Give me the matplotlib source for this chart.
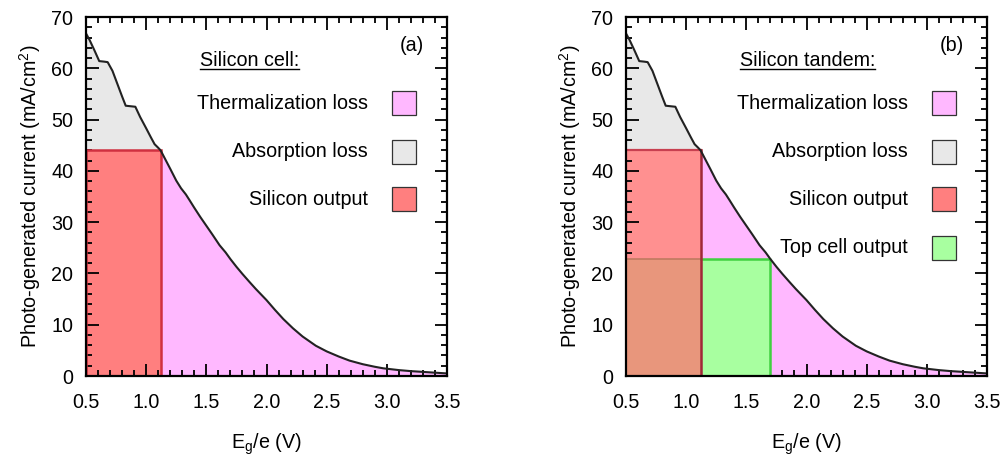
import numpy as np
import matplotlib
matplotlib.use('Agg')
import matplotlib.pyplot as plt
from matplotlib.patches import Rectangle
from matplotlib.lines import Line2D
from matplotlib.ticker import MultipleLocator

plt.rcParams['font.family'] = ['Liberation Sans', 'DejaVu Sans']
plt.rcParams['mathtext.fontset'] = 'custom'
plt.rcParams['mathtext.rm'] = 'Liberation Sans'

# photo-generated current vs band gap (AM1.5G)
eg = [0.50, 0.53, 0.57, 0.61, 0.65, 0.68, 0.72, 0.76, 0.80, 0.83, 0.87, 0.91,
      0.95, 1.00, 1.04, 1.07, 1.10, 1.12, 1.16, 1.20, 1.25, 1.29, 1.33, 1.36,
      1.40, 1.45, 1.50, 1.55, 1.61, 1.66, 1.70, 1.75, 1.80, 1.86, 1.91, 2.00,
      2.07, 2.14, 2.22, 2.30, 2.41, 2.50, 2.60, 2.69, 2.80, 2.90, 2.97, 3.10,
      3.20, 3.30, 3.38, 3.50]
jph = [66.8, 65.5, 63.5, 61.4, 61.3, 61.2, 59.5, 57.0, 54.5, 52.7, 52.6, 52.5,
       50.5, 48.3, 46.5, 45.2, 44.5, 44.0, 42.2, 40.4, 38.1, 36.6, 35.4, 34.3,
       32.8, 31.0, 29.3, 27.6, 25.5, 24.1, 22.8, 21.3, 19.9, 18.3, 17.0, 14.8,
       12.9, 11.1, 9.3, 7.7, 5.9, 4.8, 3.8, 3.0, 2.3, 1.8, 1.5, 1.15,
       0.95, 0.8, 0.68, 0.5]

eg_si = 1.12
j_si = 44.0
eg_top = 1.70
j_top = 22.8

labels_a = ['Thermalization loss', 'Absorption loss', 'Silicon output']
labels_b = ['Thermalization loss', 'Absorption loss', 'Silicon output', 'Top cell output']

c_therm = '#ffb8ff'
c_abs = '#e8e8e8'
c_si = '#ff7f7f'
c_si_b = '#ff9090'
c_top = '#a8ffa0'
c_mix = '#e8967c'

FS = 14.2

eg = np.array(eg)
jph = np.array(jph)

fig = plt.figure(figsize=(10.02, 4.55), dpi=100)
ax1 = fig.add_axes([86/1002, 79/455, 361/1002, 359/455])
ax2 = fig.add_axes([626/1002, 79/455, 361/1002, 359/455])


def base(ax, si_color):
    lo = eg <= eg_si
    hi = eg >= eg_si
    ax.fill_between(eg[lo], j_si, jph[lo], color=c_abs, lw=0)
    ax.fill_between(eg[hi], 0, jph[hi], color=c_therm, lw=0)
    ax.add_patch(Rectangle((0.5, 0), eg_si - 0.5, j_si, fc=si_color, ec='none'))
    ax.plot(eg, jph, color='#222222', lw=1.5, zorder=5)


def style(ax):
    ax.set_xlim(0.5, 3.5)
    ax.set_ylim(0, 70)
    ax.xaxis.set_major_locator(MultipleLocator(0.5))
    ax.xaxis.set_minor_locator(MultipleLocator(0.1))
    ax.yaxis.set_major_locator(MultipleLocator(10))
    ax.yaxis.set_minor_locator(MultipleLocator(2))
    ax.xaxis.set_major_formatter(matplotlib.ticker.FormatStrFormatter('%.1f'))
    ax.tick_params(which='both', direction='in', top=True, right=True,
                   labelsize=FS, width=1.3)
    ax.tick_params(which='major', length=9)
    ax.tick_params(which='minor', length=4.5)
    ax.tick_params(axis='x', pad=12)
    ax.tick_params(axis='y', pad=9)
    for s in ax.spines.values():
        s.set_linewidth(1.6)
        s.set_zorder(10)
    ax.set_xlabel(r'E$_\mathregular{g}$/e (V)', fontsize=FS, labelpad=14)
    ax.set_ylabel(r'Photo-generated current (mA/cm$^\mathregular{2}$)', fontsize=FS, labelpad=6)


def legend(ax, title, tag, labels, colors):
    t = ax.text(1.448, 61.6, title, fontsize=FS, va='center', ha='left')
    ax.text(3.21, 64.5, tag, fontsize=FS, va='center', ha='center')
    ys = [53.2, 43.7, 34.5, 25.0]
    for lab, col, y in zip(labels, colors, ys):
        ax.text(2.84, y, lab, fontsize=FS, va='center', ha='right')
        ax.add_patch(Rectangle((3.04, y - 2.35), 0.2, 4.7, fc=col, ec='#333333',
                               lw=0.9, zorder=6))
    return t


# (a) single junction silicon
base(ax1, c_si)
ax1.add_patch(Rectangle((0.5, 0), eg_si - 0.5, j_si, fc='none', ec='#d03040',
                        lw=1.8, zorder=4))
style(ax1)
t1 = legend(ax1, 'Silicon cell:', '(a)', labels_a, [c_therm, c_abs, c_si])

# (b) silicon tandem with a top cell
base(ax2, c_si_b)
ax2.add_patch(Rectangle((0.5, 0), eg_si - 0.5, j_top, fc=c_mix, ec='none', zorder=3))
ax2.add_patch(Rectangle((eg_si, 0), eg_top - eg_si, j_top, fc=c_top, ec='none', zorder=3))
ax2.plot([0.5, eg_si], [j_si, j_si], color='#c84050', lw=1.6, zorder=4)
ax2.plot([0.5, eg_si], [j_top, j_top], color='#c07a60', lw=1.2, zorder=4)
ax2.plot([eg_si, eg_top, eg_top], [j_top, j_top, 0], color='#40d040', lw=1.8, zorder=4)
ax2.plot([eg_si, eg_si], [0, j_si], color='#a02838', lw=1.8, zorder=4)
style(ax2)
t2 = legend(ax2, 'Silicon tandem:', '(b)', labels_b, [c_therm, c_abs, c_si, c_top])

# underline the panel titles
fig.canvas.draw()
r = fig.canvas.get_renderer()
for t in (t1, t2):
    bb = t.get_window_extent(r).transformed(fig.transFigure.inverted())
    y = bb.y0 + 0.002
    fig.add_artist(Line2D([bb.x0, bb.x1], [y, y], transform=fig.transFigure,
                          color='black', lw=1.0))

fig.savefig('out.png', dpi=100)
